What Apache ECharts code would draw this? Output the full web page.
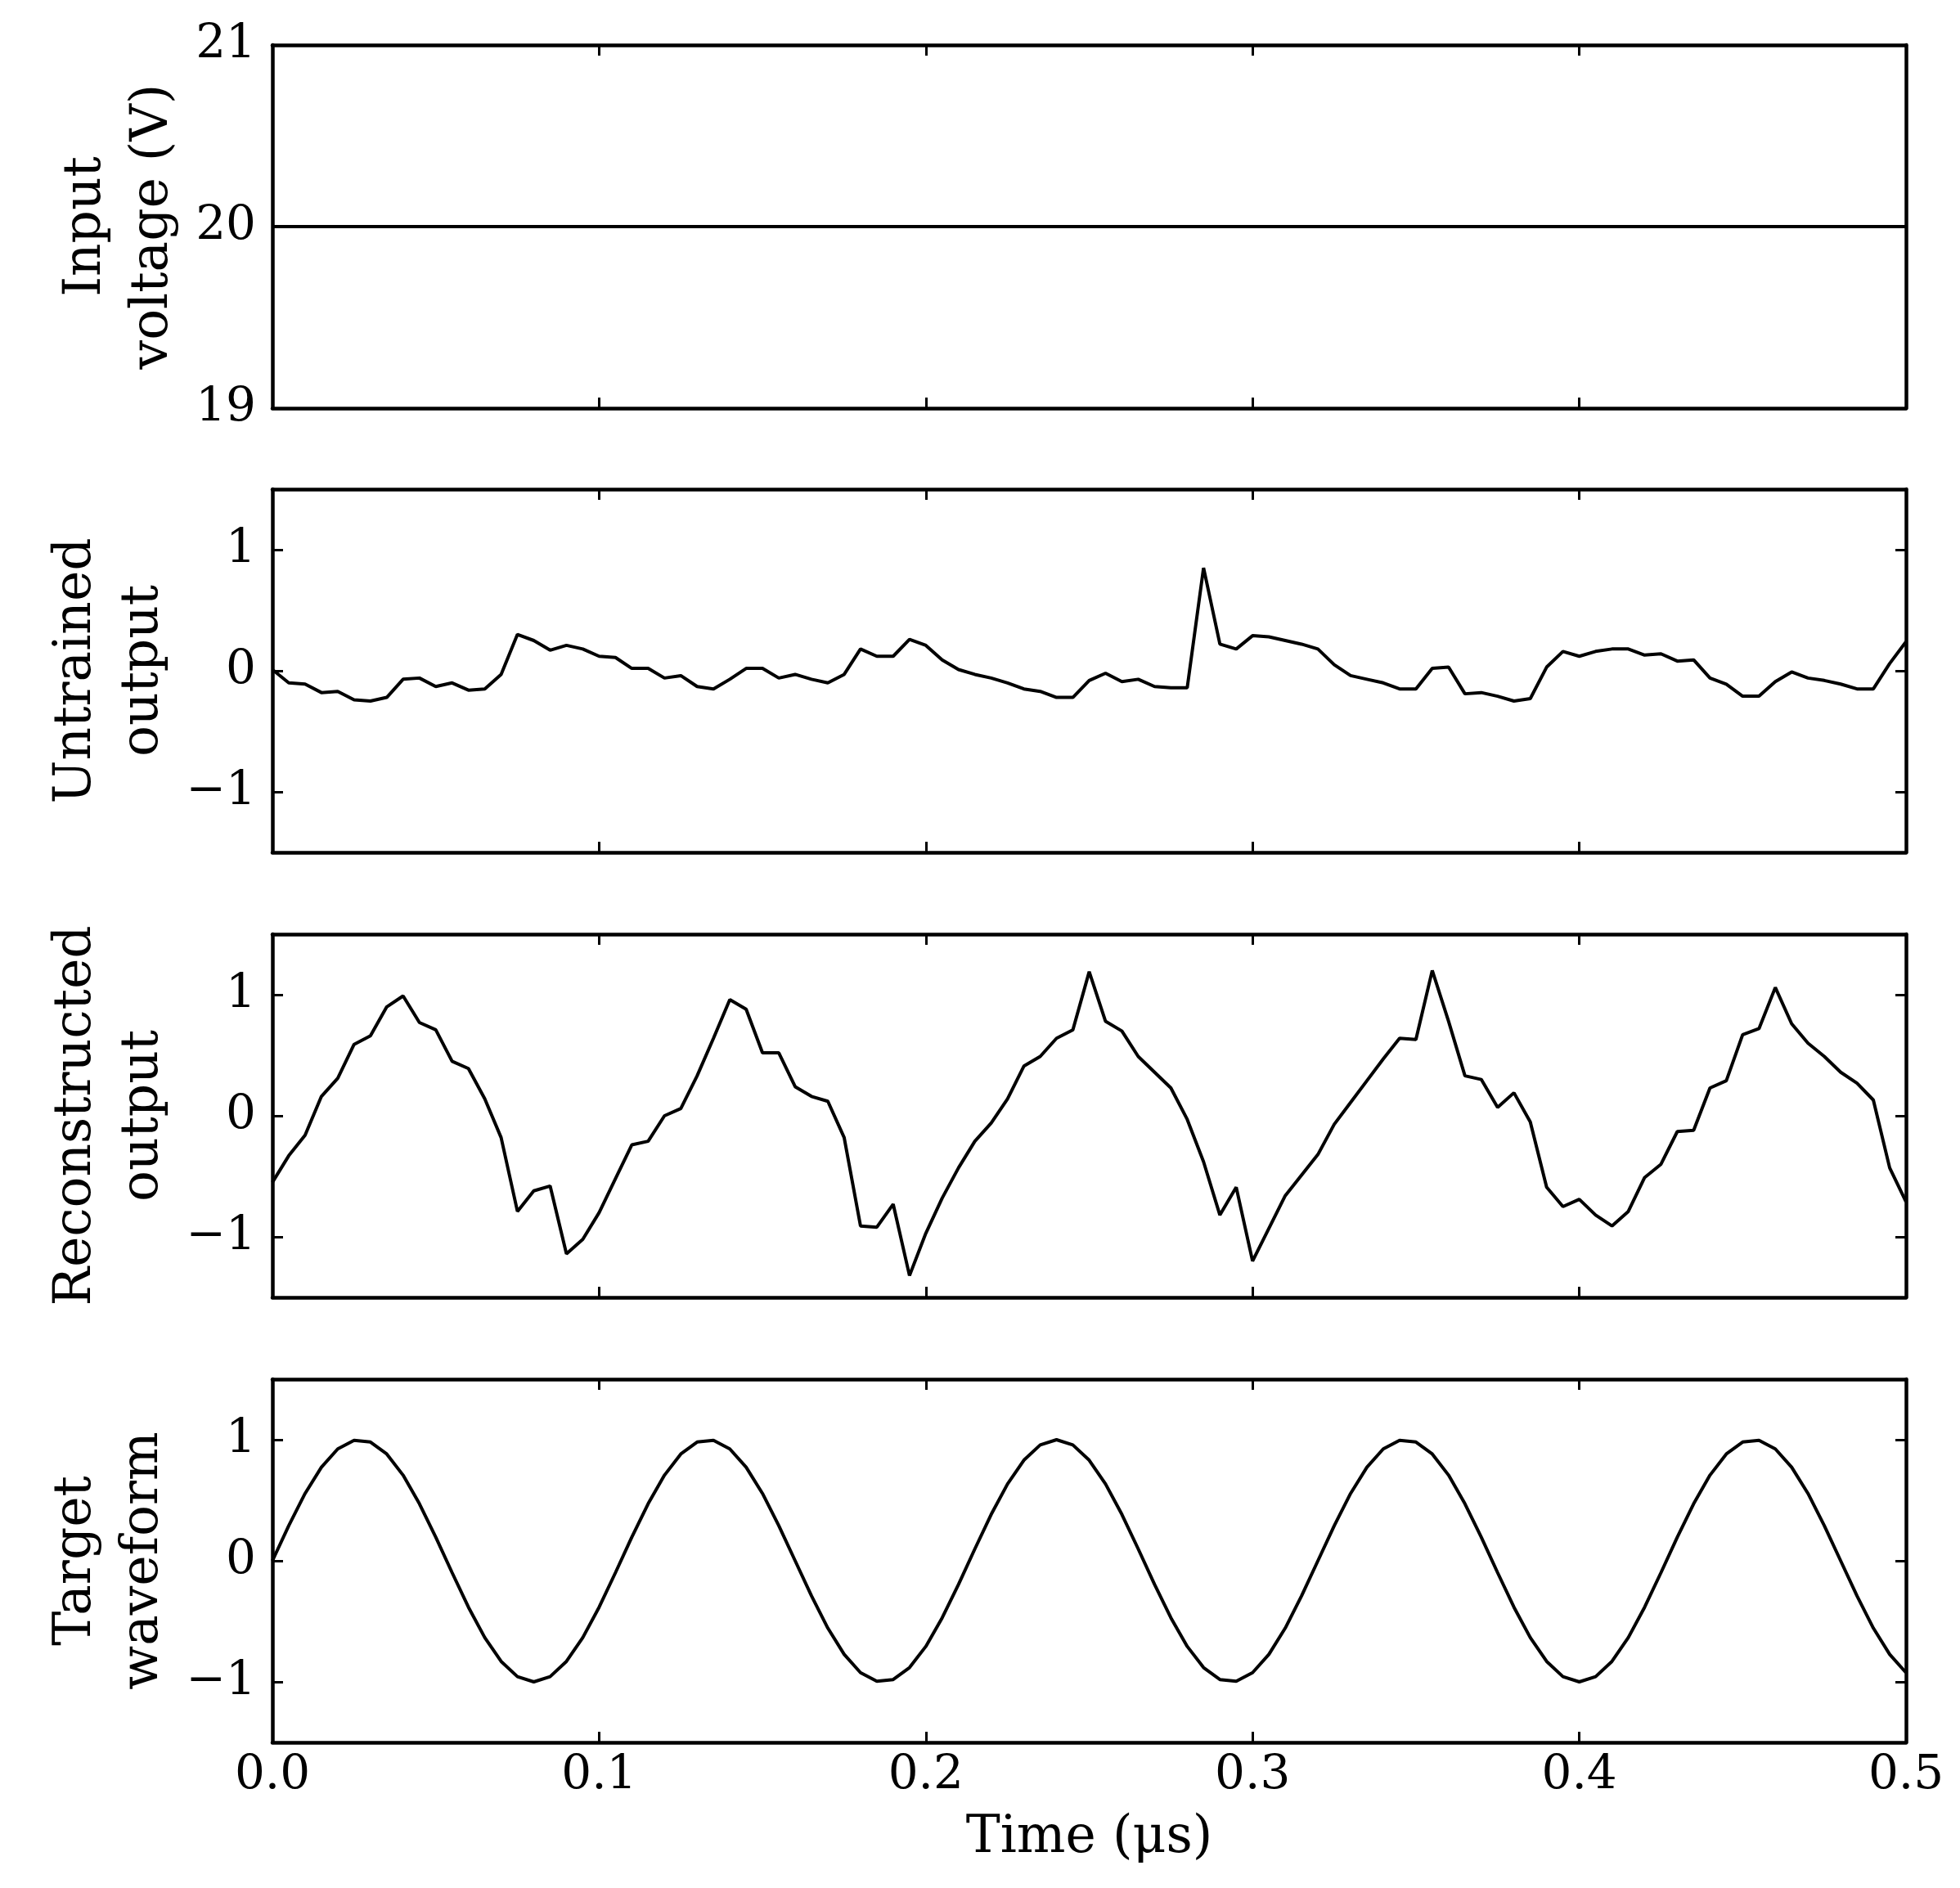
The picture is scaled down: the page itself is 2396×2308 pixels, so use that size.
<!DOCTYPE html>
<html>
<head>
<meta charset="utf-8">
<script src="https://cdn.jsdelivr.net/npm/echarts@6/dist/echarts.min.js"></script>
<style>html,body{margin:0;padding:0;background:#fff}#c{width:2396px;height:2308px}</style>
</head>
<body>
<div id="c"></div>
<script>
const time = [0,0.005,0.01,0.015,0.02,0.025,0.03,0.035,0.04,0.045,0.05,0.055,0.06,0.065,0.07,0.075,0.08,0.085,0.09,0.095,
0.1,0.105,0.11,0.115,0.12,0.125,0.13,0.135,0.14,0.145,0.15,0.155,0.16,0.165,0.17,0.175,0.18,0.185,0.19,0.195,
0.2,0.205,0.21,0.215,0.22,0.225,0.23,0.235,0.24,0.245,0.25,0.255,0.26,0.265,0.27,0.275,0.28,0.285,0.29,0.295,
0.3,0.305,0.31,0.315,0.32,0.325,0.33,0.335,0.34,0.345,0.35,0.355,0.36,0.365,0.37,0.375,0.38,0.385,0.39,0.395,
0.4,0.405,0.41,0.415,0.42,0.425,0.43,0.435,0.44,0.445,0.45,0.455,0.46,0.465,0.47,0.475,0.48,0.485,0.49,0.495,0.5];

const inputTime = [0, 0.5];
const inputVoltage = [20, 20];

const untrained = [0.01,-0.10,-0.11,-0.18,-0.17,-0.24,-0.25,-0.22,-0.07,-0.06,
-0.13,-0.10,-0.16,-0.15,-0.03,0.30,0.25,0.17,0.21,0.18,
0.12,0.11,0.02,0.02,-0.06,-0.04,-0.13,-0.15,-0.07,0.02,
0.02,-0.06,-0.03,-0.07,-0.10,-0.03,0.18,0.12,0.12,0.26,
0.21,0.09,0.01,-0.03,-0.06,-0.10,-0.15,-0.17,-0.22,-0.22,
-0.08,-0.02,-0.09,-0.07,-0.13,-0.14,-0.14,0.85,0.22,0.18,
0.29,0.28,0.25,0.22,0.18,0.05,-0.04,-0.07,-0.10,-0.15,
-0.15,0.02,0.03,-0.19,-0.18,-0.21,-0.25,-0.23,0.03,0.16,
0.12,0.16,0.18,0.18,0.13,0.14,0.08,0.09,-0.06,-0.11,
-0.21,-0.21,-0.09,-0.01,-0.06,-0.08,-0.11,-0.15,-0.15,0.06,0.24];

const reconstructed = [-0.55,-0.33,-0.16,0.16,0.31,0.59,0.66,0.90,0.99,0.77,
0.71,0.45,0.39,0.14,-0.18,-0.79,-0.62,-0.58,-1.14,-1.02,
-0.80,-0.52,-0.24,-0.21,0.00,0.06,0.33,0.64,0.96,0.88,
0.52,0.52,0.24,0.16,0.12,-0.18,-0.91,-0.92,-0.73,-1.32,
-0.97,-0.68,-0.43,-0.21,-0.06,0.14,0.41,0.49,0.64,0.71,
1.19,0.78,0.70,0.49,0.36,0.23,-0.03,-0.38,-0.82,-0.59,
-1.20,-0.93,-0.66,-0.49,-0.32,-0.07,0.11,0.29,0.47,0.64,
0.63,1.20,0.78,0.33,0.30,0.07,0.19,-0.05,-0.59,-0.75,
-0.69,-0.82,-0.91,-0.79,-0.51,-0.40,-0.13,-0.12,0.23,0.29,
0.67,0.72,1.06,0.76,0.60,0.49,0.36,0.27,0.13,-0.43,-0.71];

const target = [0,0.290,0.556,0.773,0.924,0.995,0.981,0.882,0.707,0.471,
0.195,-0.098,-0.383,-0.634,-0.831,-0.957,-1.000,-0.957,-0.831,-0.634,
-0.383,-0.098,0.195,0.471,0.707,0.882,0.981,0.995,0.924,0.773,
0.556,0.290,0,-0.290,-0.556,-0.773,-0.924,-0.995,-0.981,-0.882,
-0.707,-0.471,-0.195,0.098,0.383,0.634,0.831,0.957,1.000,0.957,
0.831,0.634,0.383,0.098,-0.195,-0.471,-0.707,-0.882,-0.981,-0.995,
-0.924,-0.773,-0.556,-0.290,0,0.290,0.556,0.773,0.924,0.995,
0.981,0.882,0.707,0.471,0.195,-0.098,-0.383,-0.634,-0.831,-0.957,
-1.000,-0.957,-0.831,-0.634,-0.383,-0.098,0.195,0.471,0.707,0.882,
0.981,0.995,0.924,0.773,0.556,0.290,0,-0.290,-0.556,-0.773,-0.924];

const panelNames = ['Input\nvoltage (V)', 'Untrained\noutput', 'Reconstructed\noutput', 'Target\nwaveform'];
const xTicks = [0, 0.1, 0.2, 0.3, 0.4, 0.5];
const xName = 'Time (μs)';
const yTicksInput = [19, 20, 21];
const yTicksOut = [-1, 0, 1];

const FONT = 'DejaVu Serif';
const FS = 58;
const NFS = 63;
const tops = [55, 598, 1142, 1686];
const H = 444;

function pairs(xs, ys) { return xs.map((x, i) => [x, ys[i]]); }
function fmt(v) { return String(v).replace('-', '\u2212'); }

const lineW = 4.5;
const tickStyle = { show: true, inside: true, length: 13, lineStyle: { color: '#000', width: 3 } };

const grid = [], xAxis = [], yAxis = [], series = [];
const seriesData = [pairs(inputTime, inputVoltage), pairs(time, untrained), pairs(time, reconstructed), pairs(time, target)];

for (let k = 0; k < 4; k++) {
  grid.push({ left: 333, right: 66, top: tops[k], height: H, containLabel: false });
  const isBottom = k === 3;
  xAxis.push({
    type: 'value', gridIndex: k, min: 0, max: 0.5, interval: 0.1, position: 'bottom',
    axisLine: { show: true, onZero: false, lineStyle: { color: '#000', width: lineW } },
    axisTick: tickStyle, splitLine: { show: false },
    axisLabel: { show: isBottom, margin: 12, fontFamily: FONT, fontSize: FS, color: '#000', formatter: v => v.toFixed(1) },
    name: isBottom ? xName : '', nameLocation: 'middle', nameGap: 86,
    nameTextStyle: { fontFamily: FONT, fontSize: NFS, color: '#000' }
  });
  xAxis.push({
    type: 'value', gridIndex: k, min: 0, max: 0.5, interval: 0.1, position: 'top',
    axisLine: { show: true, onZero: false, lineStyle: { color: '#000', width: lineW } },
    axisTick: tickStyle, splitLine: { show: false }, axisLabel: { show: false }
  });
  const isInput = k === 0;
  const yMin = isInput ? 19 : -1.5, yMax = isInput ? 21 : 1.5;
  const ticks = isInput ? yTicksInput : yTicksOut;
  yAxis.push({
    type: 'value', gridIndex: k, min: yMin, max: yMax, interval: isInput ? 1 : 0.5, position: 'left',
    axisLine: { show: true, onZero: false, lineStyle: { color: '#000', width: lineW } },
    axisTick: Object.assign({}, tickStyle, { customValues: ticks }), splitLine: { show: false },
    axisLabel: { show: true, customValues: ticks, margin: 20, fontFamily: FONT, fontSize: FS, color: '#000', formatter: v => fmt(v) },
    name: panelNames[k], nameLocation: 'middle', nameRotate: 90, nameGap: isInput ? 104 : 113,
    nameTextStyle: { fontFamily: FONT, fontSize: NFS, color: '#000', lineHeight: 82, align: 'center' }
  });
  yAxis.push({
    type: 'value', gridIndex: k, min: yMin, max: yMax, interval: isInput ? 1 : 0.5, position: 'right',
    axisLine: { show: true, onZero: false, lineStyle: { color: '#000', width: lineW } },
    axisTick: Object.assign({}, tickStyle, { customValues: ticks }), splitLine: { show: false },
    axisLabel: { show: false }
  });
  series.push({
    type: 'line', xAxisIndex: 2 * k, yAxisIndex: 2 * k, data: seriesData[k],
    showSymbol: false, symbol: 'none', lineStyle: { color: '#000', width: 4 }, silent: true
  });
}

const chart = echarts.init(document.getElementById('c'), null, { renderer: 'canvas', width: 2396, height: 2308 });
chart.setOption({ animation: false, backgroundColor: '#fff', grid, xAxis, yAxis, series });
</script>
</body>
</html>
